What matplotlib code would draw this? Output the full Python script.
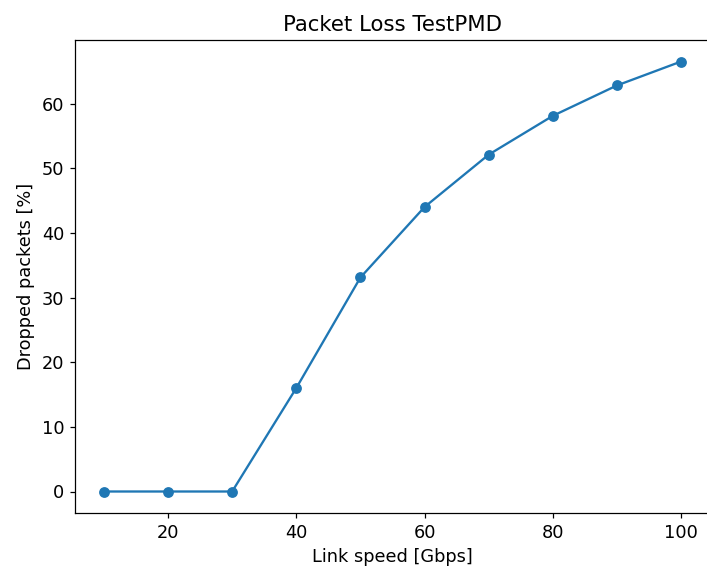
import matplotlib
matplotlib.use("Agg")
import matplotlib.pyplot as plt

link_speed = [10, 20, 30, 40, 50, 60, 70, 80, 90, 100]
dropped = [0.0, 0.0, 0.0, 16.0, 33.1, 44.0, 52.1, 58.1, 62.8, 66.5]

plt.rcParams["font.size"] = 11.5

W, H = 707, 569
DPI = 111
fig = plt.figure(figsize=(W / DPI, H / DPI), dpi=DPI)
left, right, top, bottom = 75, 710, 40, 513
ax = fig.add_axes([left / W, (H - bottom) / H, (right - left) / W, (bottom - top) / H])
ax.plot(link_speed, dropped, marker="o", color="#1f77b4")
ax.set_title("Packet Loss TestPMD")
ax.set_xlabel("Link speed [Gbps]")
ax.set_ylabel("Dropped packets [%]")
fig.savefig("out.png", dpi=DPI)
